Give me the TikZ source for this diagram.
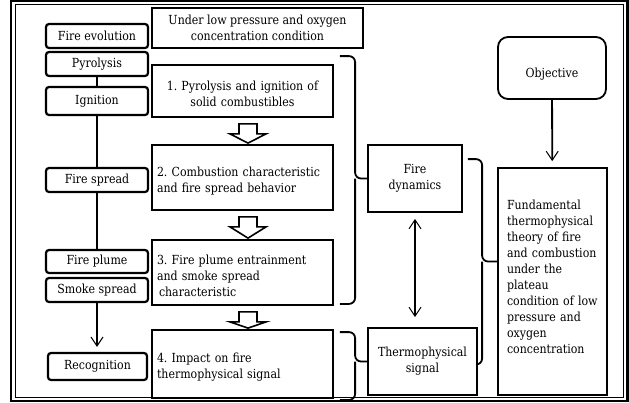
\documentclass[tikz,border=0pt]{standalone}
\usepackage{fontspec}
\setmainfont{DejaVu Serif}[FakeStretch=0.88]
\usetikzlibrary{calc,arrows.meta}

\begin{document}
\begin{tikzpicture}[x=1pt,y=-1pt,
	font=\fontsize{12.5}{16}\selectfont\frenchspacing,
	textdrop/.style={execute at begin node={\rule{0pt}{#1}}},
	evobox/.style={draw,line width=2.2pt,rounded corners=3pt,minimum width=102pt,inner sep=0pt},
	taskbox/.style={draw,line width=1.8pt,minimum width=181pt,text width=171pt,inner sep=0pt,align=left,textdrop=16pt},
	sidebox/.style={draw,line width=1.8pt,inner sep=0pt,align=center},
	brace/.style={line width=1.8pt,rounded corners=6pt},
	link/.style={line width=1.8pt},
	barb/.style={link,-{Straight Barb[length=9pt,width=12pt,line width=1pt]}}]
\useasboundingbox (0,0) rectangle (629,402);

% double frame
\draw[line width=2.4pt] (11,1.2) rectangle (627.3,400.8);
\draw[line width=1pt] (15.5,4.5) rectangle (623,397);

% fire evolution column
\node[evobox,minimum height=24pt] (evol) at (97,36) {Fire evolution};
\node[evobox,minimum height=24pt] (pyro) at (97,64) {Pyrolysis};
\node[evobox,minimum height=28pt] (ign) at (97,101) {Ignition};
\node[evobox,minimum height=24pt] (spread) at (97,180) {Fire spread};
\node[evobox,minimum height=23pt] (plume) at (97,261.5) {Fire plume};
\node[evobox,minimum height=24pt] (smoke) at (97,290) {Smoke spread};
\node[evobox,minimum height=27pt,minimum width=99pt] (recog) at (97.5,366.5) {Recognition};

\draw[link] (pyro) -- (ign);
\draw[link] (ign) -- (spread);
\draw[link] (spread) -- (plume);
\draw[barb,shorten >=5pt] (smoke.south) -- (smoke.south |- recog.north);

% research contents
\node[sidebox,minimum width=211pt,minimum height=40pt] (cond) at (257.5,28)
	{Under low pressure and oxygen\\concentration condition};
\node[taskbox,minimum height=52pt,align=center,textdrop=0pt] (t1) at (242.5,91)
	{1. Pyrolysis and ignition of\\solid combustibles};
\node[taskbox,minimum height=65pt] (t2) at (242.5,177.5)
	{2. Combustion characteristic\\and fire spread behavior};
\node[taskbox,minimum height=65pt] (t3) at (242.5,272.5)
	{3. Fire plume entrainment\\and smoke spread\\\hspace*{2pt}characteristic};
\node[taskbox,minimum height=68pt] (t4) at (242.5,364)
	{4. Impact on fire\\thermophysical signal};

\foreach \a/\b in {t1/t2,t2/t3,t3/t4}
	{
	\draw[line width=1.6pt,fill=white] let \p1=(\a.south), \p2=(\b.north) in
		(\x1-3.5pt,\y1-6pt) -- (\x1+14.5pt,\y1-6pt) -- (\x1+14.5pt,\y1-16pt)
		-- (\x1+23.5pt,\y1-16pt) -- (\x1+5.5pt,\y2+1pt) -- (\x1-12.5pt,\y1-16pt)
		-- (\x1-3.5pt,\y1-16pt) -- cycle;
	}

% fire dynamics and signal
\node[sidebox,textdrop=16pt,minimum width=94pt,minimum height=67pt] (dyn) at (415,178.5) {Fire\\dynamics};
\node[sidebox,textdrop=16pt,minimum width=109pt,minimum height=67pt] (sig) at (422.5,361.5) {Thermophysical\\signal};

\draw[brace] ([xshift=6pt,yshift=8pt]t1.north east) -| ([xshift=-12pt]dyn.west) -- (dyn.west);
\draw[brace] ([xshift=6pt,yshift=2pt]t3.south east) -| ([xshift=-12pt]dyn.west);
\draw[brace] ([xshift=6pt,yshift=-3pt]t4.north east) -| ([xshift=-12pt]sig.west) -- (sig.west);
\draw[brace] ([xshift=6pt,yshift=-1pt]t4.south east) -| ([xshift=-12pt]sig.west);

\draw[link,{Straight Barb[length=9pt,width=12pt,line width=1pt]}-{Straight Barb[length=9pt,width=12pt,line width=1pt]},
	shorten <=6pt,shorten >=10pt] (dyn.south) -- (dyn.south |- sig.north);

% objective
\node[sidebox,textdrop=21pt,rounded corners=10pt,minimum width=108pt,minimum height=62pt] (obj) at (552,68) {Objective};
\node[sidebox,align=left,text width=91pt,minimum width=109pt,minimum height=227pt] (fund) at (552.5,281.5)
	{Fundamental\\thermophysical\\theory of fire\\and combustion\\under the\\plateau\\condition of low\\pressure and\\oxygen\\concentration\rule[-10pt]{0pt}{0pt}};

\draw[barb,shorten >=6pt] (obj) -- (fund);
\draw[brace] ([xshift=5pt,yshift=-15pt]dyn.north east) -| ([xshift=-15pt,yshift=20pt]fund.west) -- ([yshift=20pt]fund.west);
\draw[brace] ([yshift=-3pt]sig.east) -| ([xshift=-15pt,yshift=20pt]fund.west);
\end{tikzpicture}
\end{document}
